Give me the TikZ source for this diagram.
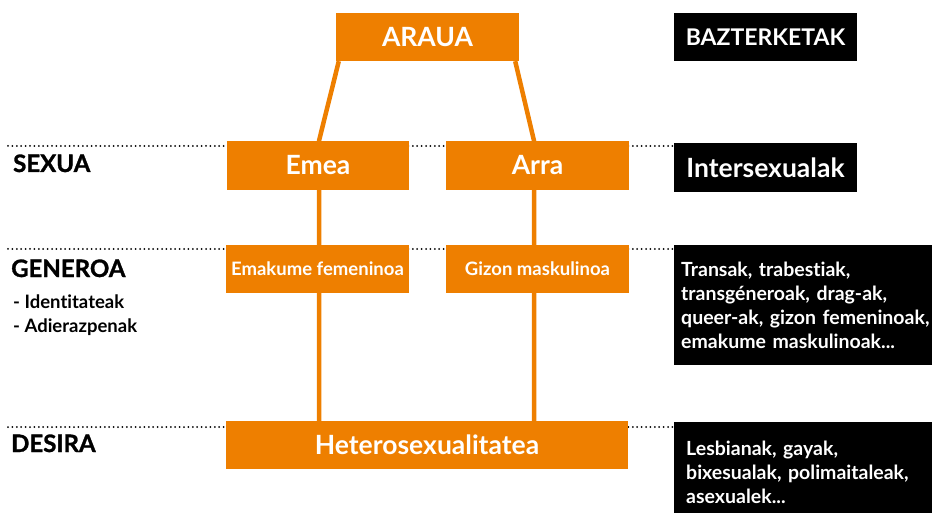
\documentclass[tikz,border=0pt]{standalone}
\usepackage{fontspec}
\setmainfont{Lato}[Ligatures=NoCommon]
\newfontfamily\heavyfont{Lato}[Ligatures=NoCommon, BoldFeatures={FakeBold=1.2}]
\usetikzlibrary{backgrounds}
\definecolor{normorange}{HTML}{EE7F00}

\tikzset{
	orangebox/.style={fill=normorange, text=white, inner sep=0, minimum width=183, minimum height=48, font=\bfseries\fontsize{26.5}{30}\selectfont},
	smallorange/.style={orangebox, font=\bfseries\fontsize{18.5}{22}\selectfont},
	blackbox/.style={fill=black, text=white, inner sep=0, minimum width=183, minimum height=49, font=\bfseries\fontsize{26.5}{30}\selectfont},
	listbox/.style={fill=black, text=white, inner ysep=0, anchor=north west, align=left, font=\frenchspacing\bfseries\fontsize{19.5}{24}\selectfont},
	levellabel/.style={anchor=base west, inner sep=0, font=\heavyfont\bfseries\fontsize{24}{28}\selectfont},
	sublabel/.style={anchor=base west, inner sep=0, font=\bfseries\fontsize{18.5}{22}\selectfont},
	guide/.style={line width=2, line cap=round, dash pattern=on 0pt off 4.4pt},
	normlink/.style={draw=normorange, line width=4.5}
}

\begin{document}
\begin{tikzpicture}[x=1pt, y=-1pt]
		%%%%% START %%%%%
		\useasboundingbox (0, 0) rectangle (932, 513);
		
		\node[orangebox] (araua) at (427.5, 37) {ARAUA};
		\node[blackbox, minimum height=48, font=\bfseries\fontsize{23}{27}\selectfont] (bazter) at (765.5, 37) {BAZTERKETAK};
		
		\node[orangebox, minimum width=182, minimum height=49] (emea) at (318, 165.5) {Emea};
		\node[orangebox, minimum height=49] (arra) at (537.5, 165.5) {Arra};
		\node[blackbox] (intersex) at (765.5, 167.5) {Intersexualak};
		
		\node[smallorange] (emakume) at (317.5, 269) {Emakume femeninoa};
		\node[smallorange] (gizon) at (537.5, 269) {Gizon maskulinoa};
		\node[listbox, text width=258, inner xsep=7, minimum height=120] (trans) at (674, 245) {Transak, trabestiak,\\transgéneroak, drag-ak,\\queer-ak, gizon femeninoak,\\emakume maskulinoak...};
		
		\node[orangebox, minimum width=402] (hetero) at (427, 445) {Heterosexualitatea};
		\node[listbox, text width=246, inner xsep=12, minimum height=101] (lesbi) at (674, 422) {Lesbianak, gayak,\\bixesualak, polimaitaleak,\\asexualek...};
		
		\node[levellabel] (sexua) at (13, 172) {SEXUA};
		\node[levellabel] (generoa) at (11, 277) {GENEROA};
		\node[sublabel] (identi) at (13, 308) {- Identitateak};
		\node[sublabel] (adiera) at (13, 332) {- Adierazpenak};
		\node[levellabel] (desira) at (11, 452) {DESIRA};
		
		\coordinate (sexline) at (8, 146);
		\coordinate (genline) at (8, 249);
		\coordinate (desline) at (8, 427);
		
		\begin{scope}[on background layer]
			\draw[guide] (sexline) -- (intersex.west |- sexline);
			\draw[guide] (genline) -- (trans.west |- genline);
			\draw[guide] (desline) -- (lesbi.west |- desline);
			
			\draw[normlink] ([xshift=3]araua.south west) -- ([xshift=1]emea.north) -- ([xshift=1]hetero.north -| emea);
			\draw[normlink] ([xshift=-4]araua.south east) -- ([xshift=-3.5]arra.north) -- ([xshift=-3.5]hetero.north -| arra);
		\end{scope}
		
		%%%%% END %%%%%
	\end{tikzpicture}
\end{document}
